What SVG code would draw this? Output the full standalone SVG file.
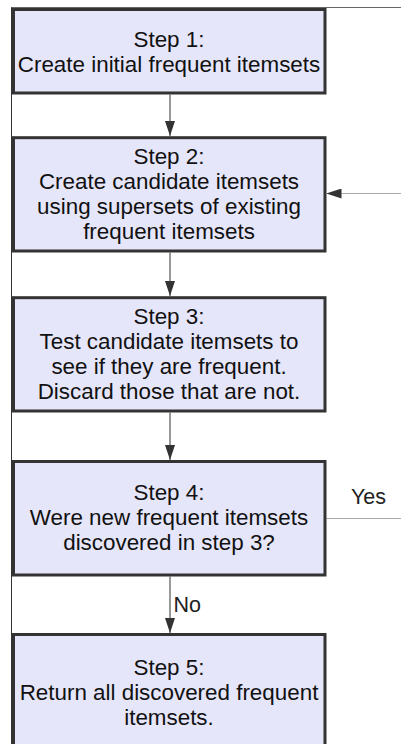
<svg xmlns="http://www.w3.org/2000/svg" width="401" height="744" viewBox="0 0 401 744">
  <defs>
    <style>
      .box { fill: #e6e6fa; stroke: #333333; stroke-width: 3; }
      .t { font-family: "Liberation Sans", Arial, sans-serif; font-size: 22.4px; fill: #111111; text-anchor: middle; }
      .lbl { font-family: "Liberation Sans", Arial, sans-serif; font-size: 21.5px; fill: #222222; }
      .flow { stroke: #333333; stroke-width: 1; fill: none; }
      .back { stroke: #aaaaaa; stroke-width: 1.2; fill: none; }
    </style>
    <marker id="ah" markerUnits="userSpaceOnUse" markerWidth="15" markerHeight="10" refX="15" refY="5" orient="auto" viewBox="0 0 15 10">
      <path d="M0,0 L15,5 L0,10 z" fill="#333333"/>
    </marker>
  </defs>

  <g id="frame">
    <line x1="11.5" y1="7" x2="11.5" y2="744" stroke="#333333" stroke-width="1"/>
    <line x1="11.5" y1="7.5" x2="401" y2="7.5" stroke="#666666" stroke-width="1"/>
  </g>

  <g id="connectors">
    <line class="flow" x1="170" y1="94.5" x2="170" y2="136" marker-end="url(#ah)"/>
    <line class="flow" x1="170" y1="252.5" x2="170" y2="296" marker-end="url(#ah)"/>
    <line class="flow" x1="170" y1="412.5" x2="170" y2="460" marker-end="url(#ah)"/>
    <line class="flow" x1="170" y1="576.5" x2="170" y2="633" marker-end="url(#ah)"/>
    <line class="back" x1="401" y1="193.5" x2="326.5" y2="193.5" marker-end="url(#ah)"/>
    <line class="back" x1="326.5" y1="518.5" x2="401" y2="518.5"/>
    <text class="lbl" x="351" y="503.5">Yes</text>
    <text class="lbl" x="173.5" y="612">No</text>
  </g>

  <g id="step1">
    <rect class="box" x="13.5" y="9.5" width="311.5" height="83.5"/>
    <text class="t" x="169" y="47">Step 1:</text>
    <text class="t" x="169" y="71.5">Create initial frequent itemsets</text>
  </g>

  <g id="step2">
    <rect class="box" x="13.5" y="137.7" width="311.5" height="113.3"/>
    <text class="t" x="169" y="164">Step 2:</text>
    <text class="t" x="169" y="189">Create candidate itemsets</text>
    <text class="t" x="169" y="213.5">using supersets of existing</text>
    <text class="t" x="169" y="238.5">frequent itemsets</text>
  </g>

  <g id="step3">
    <rect class="box" x="13.5" y="297.7" width="311.5" height="113.3"/>
    <text class="t" x="169" y="324">Step 3:</text>
    <text class="t" x="169" y="349">Test candidate itemsets to</text>
    <text class="t" x="169" y="373.5">see if they are frequent.</text>
    <text class="t" x="169" y="398.5">Discard those that are not.</text>
  </g>

  <g id="step4">
    <rect class="box" x="13.5" y="461.5" width="311.5" height="113.5"/>
    <text class="t" x="169" y="500">Step 4:</text>
    <text class="t" x="169" y="525">Were new frequent itemsets</text>
    <text class="t" x="169" y="549.5">discovered in step 3?</text>
  </g>

  <g id="step5">
    <rect class="box" x="13.5" y="634.5" width="311.5" height="130"/>
    <text class="t" x="169" y="675">Step 5:</text>
    <text class="t" x="169" y="700">Return all discovered frequent</text>
    <text class="t" x="169" y="724.5">itemsets.</text>
  </g>
</svg>
